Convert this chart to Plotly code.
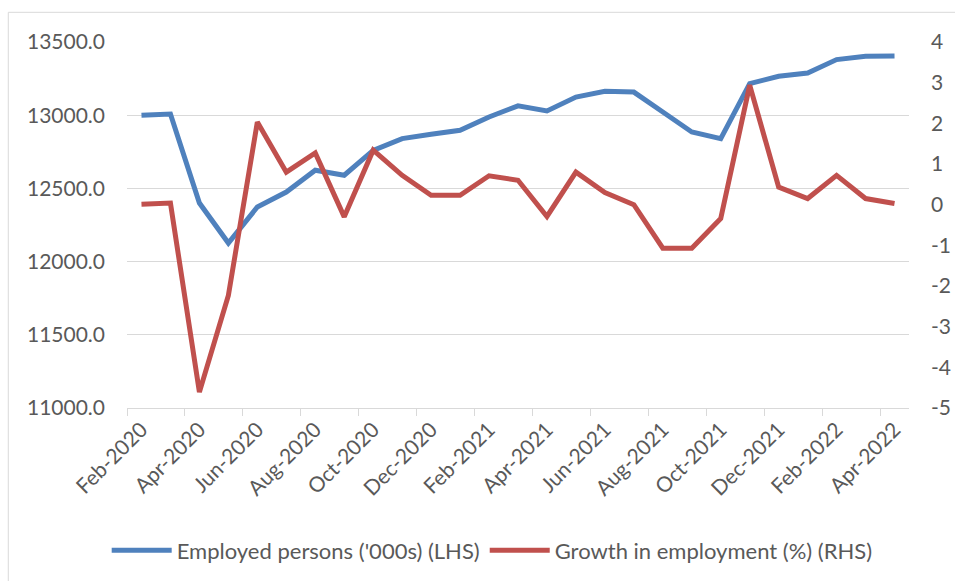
import plotly.graph_objects as go

# Monthly labour-market series, Feb-2020 .. Apr-2022
months = [
    "Feb-2020", "Mar-2020", "Apr-2020", "May-2020", "Jun-2020", "Jul-2020",
    "Aug-2020", "Sep-2020", "Oct-2020", "Nov-2020", "Dec-2020", "Jan-2021",
    "Feb-2021", "Mar-2021", "Apr-2021", "May-2021", "Jun-2021", "Jul-2021",
    "Aug-2021", "Sep-2021", "Oct-2021", "Nov-2021", "Dec-2021", "Jan-2022",
    "Feb-2022", "Mar-2022", "Apr-2022",
]

employed = [
    13000, 13008, 12400, 12127, 12373, 12475, 12624, 12590, 12760, 12840,
    12870, 12897, 12988, 13064, 13029, 13124, 13163, 13158, 13022, 12885,
    12840, 13216, 13266, 13288, 13380, 13402, 13404,
]

growth = [
    0.01, 0.04, -4.61, -2.23, 2.03, 0.80, 1.27, -0.30, 1.34, 0.72,
    0.23, 0.23, 0.71, 0.60, -0.29, 0.80, 0.30, 0.00, -1.07, -1.07,
    -0.34, 2.94, 0.43, 0.15, 0.72, 0.15, 0.03,
]

rhs_ticks = [4, 3, 2, 1, 0, -1, -2, -3, -4, -5]
rhs_labels = ["4", "3", "2", "1", "0", "-1", "-2", "-3", "-4", "-5"]

BLUE = "#4F81BD"
RED = "#C0504D"
TEXT = "#595959"
GRID = "#D9D9D9"
FONT = "Lato, 'Open Sans', sans-serif"

fig = go.Figure()

fig.add_trace(go.Scatter(
    x=months, y=employed, name="Employed persons ('000s) (LHS)",
    mode="lines", line=dict(color=BLUE, width=5), yaxis="y",
))
fig.add_trace(go.Scatter(
    x=months, y=growth, name="Growth in employment (%) (RHS)",
    mode="lines", line=dict(color=RED, width=5), yaxis="y2",
))

fig.update_layout(
    width=955, height=581,
    margin=dict(l=127, r=46, t=42, b=173, autoexpand=False),
    paper_bgcolor="white", plot_bgcolor="white",
    font=dict(family=FONT, size=21, color=TEXT),
    showlegend=True,
    legend=dict(
        orientation="h", x=0.467, xanchor="center", y=-0.389, yanchor="middle",
        font=dict(size=22, color=TEXT), itemwidth=60, tracegroupgap=0,
        bgcolor="rgba(0,0,0,0)",
    ),
    xaxis=dict(
        type="category", categoryorder="array", categoryarray=months,
        range=[-0.5, len(months) - 0.5],
        dtick=2, tickson="boundaries", ticks="outside", ticklen=7,
        tickcolor=GRID, tickwidth=1, tickangle=-45,
        showline=True, linecolor=GRID, linewidth=1,
        showgrid=False, zeroline=False,
        tickfont=dict(size=21, color=TEXT),
    ),
    yaxis=dict(
        range=[11000, 13500], dtick=500, tickformat=".1f",
        showgrid=True, gridcolor=GRID, gridwidth=1,
        zeroline=False, showline=False, ticks="",
        ticklabelstandoff=21,
        tickfont=dict(size=21, color=TEXT),
    ),
    yaxis2=dict(
        range=[-5, 4], overlaying="y", side="right",
        tickvals=rhs_ticks, ticktext=rhs_labels,
        showgrid=False, zeroline=False, showline=False, ticks="",
        ticklabelstandoff=21,
        tickfont=dict(size=21, color=TEXT),
    ),
    shapes=[dict(
        type="rect", xref="paper", yref="paper",
        x0=-0.1518, x1=1.2, y0=-0.7, y1=1.0811,
        line=dict(color=GRID, width=1), fillcolor="rgba(0,0,0,0)",
        layer="below",
    )],
)

fig.write_html("out.html")
